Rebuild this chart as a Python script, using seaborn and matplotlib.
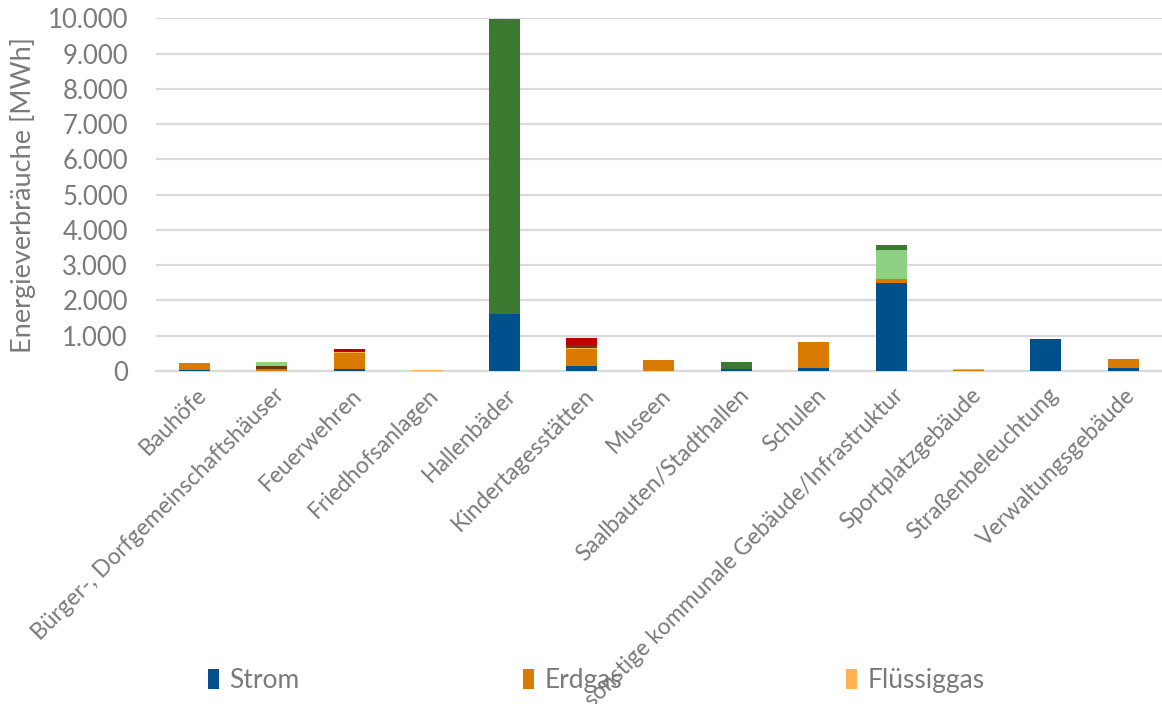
import matplotlib
matplotlib.use("Agg")
import matplotlib.pyplot as plt
from matplotlib.patches import Patch
from matplotlib.ticker import FuncFormatter
from matplotlib.transforms import ScaledTranslation
import numpy as np
import seaborn as sns

categories = [
    "Bauhöfe",
    "Bürger-, Dorfgemeinschaftshäuser",
    "Feuerwehren",
    "Friedhofsanlagen",
    "Hallenbäder",
    "Kindertagesstätten",
    "Museen",
    "Saalbauten/Stadthallen",
    "Schulen",
    "sonstige kommunale Gebäude/Infrastruktur",
    "Sportplatzgebäude",
    "Straßenbeleuchtung",
    "Verwaltungsgebäude",
]

# energy carriers in stacking order (bottom to top), MWh
strom       = [15, 10, 60, 0, 1620, 140, 0, 65, 95, 2485, 0, 905, 95]
erdgas      = [210, 40, 460, 12, 0, 490, 300, 0, 720, 120, 30, 0, 255]
fluessiggas = [5, 20, 30, 8, 0, 20, 0, 0, 0, 0, 15, 0, 0]
holz        = [0, 60, 0, 0, 0, 90, 0, 0, 0, 0, 0, 0, 0]
heizoel     = [0, 0, 60, 0, 0, 200, 0, 0, 0, 0, 0, 0, 0]
biomasse    = [0, 120, 0, 0, 0, 0, 0, 0, 0, 830, 0, 0, 0]
fernwaerme  = [0, 0, 0, 0, 8370, 0, 0, 180, 0, 150, 0, 0, 0]

series = [strom, erdgas, fluessiggas, holz, heizoel, biomasse, fernwaerme]
colors = ["#00508C", "#D97B00", "#FFB24F", "#6B3A0A", "#C00000", "#8FD184", "#3D7A31"]
legend_names = ["Strom", "Erdgas", "Flüssiggas"]

sns.set_theme(style="white")
plt.rcParams["font.family"] = ["Lato", "DejaVu Sans"]
text_grey = "#7A7A7A"
grid_grey = "#D9D9D9"

fig = plt.figure(figsize=(11.62, 7.04), dpi=100)
ax = fig.add_axes([0.134, 0.473, 0.866, 0.501])

cum = np.cumsum(np.array(series, dtype=float), axis=0)
# draw the cumulative totals from the top layer down so each band shows through
for i in range(len(series) - 1, -1, -1):
    sns.barplot(x=categories, y=cum[i], color=colors[i], saturation=1,
                width=0.4, errorbar=None, ax=ax, order=categories, zorder=3,
                edgecolor="none", linewidth=0)

ax.set_ylim(0, 10000)
ax.set_xlim(-0.5, len(categories) - 0.5)
ax.set_yticks(np.arange(0, 10001, 1000))
ax.yaxis.set_major_formatter(FuncFormatter(lambda v, p: f"{int(v):,}".replace(",", ".")))
ax.grid(axis="y", color=grid_grey, linewidth=1.6, zorder=0)
ax.set_axisbelow(True)
for s in ["top", "right", "left"]:
    ax.spines[s].set_visible(False)
ax.spines["bottom"].set_color(grid_grey)
ax.spines["bottom"].set_linewidth(1.6)
ax.tick_params(axis="both", length=0, colors=text_grey)
ax.tick_params(axis="y", pad=20, labelsize=18.5)

ax.set_xticks(range(len(categories)))
ax.set_xticklabels(categories, rotation=45, ha="right", va="center",
                   rotation_mode="anchor", color=text_grey, fontsize=16.5)
offset = ScaledTranslation(9 / 100, -16 / 100, fig.dpi_scale_trans)
for lbl in ax.get_xticklabels():
    lbl.set_transform(lbl.get_transform() + offset)

ax.set_xlabel("")
ax.set_ylabel("Energieverbräuche [MWh]", color=text_grey, fontsize=19.5, labelpad=8)

handles = [Patch(facecolor=colors[i], edgecolor="none") for i in range(3)]
fig.legend(handles, legend_names, loc="center", bbox_to_anchor=(0.513, 0.033),
           ncol=3, frameon=False, fontsize=19, labelcolor=text_grey,
           handlelength=0.42, handleheight=0.75, handletextpad=0.4,
           columnspacing=8.47)

fig.savefig("out.png", dpi=100)
